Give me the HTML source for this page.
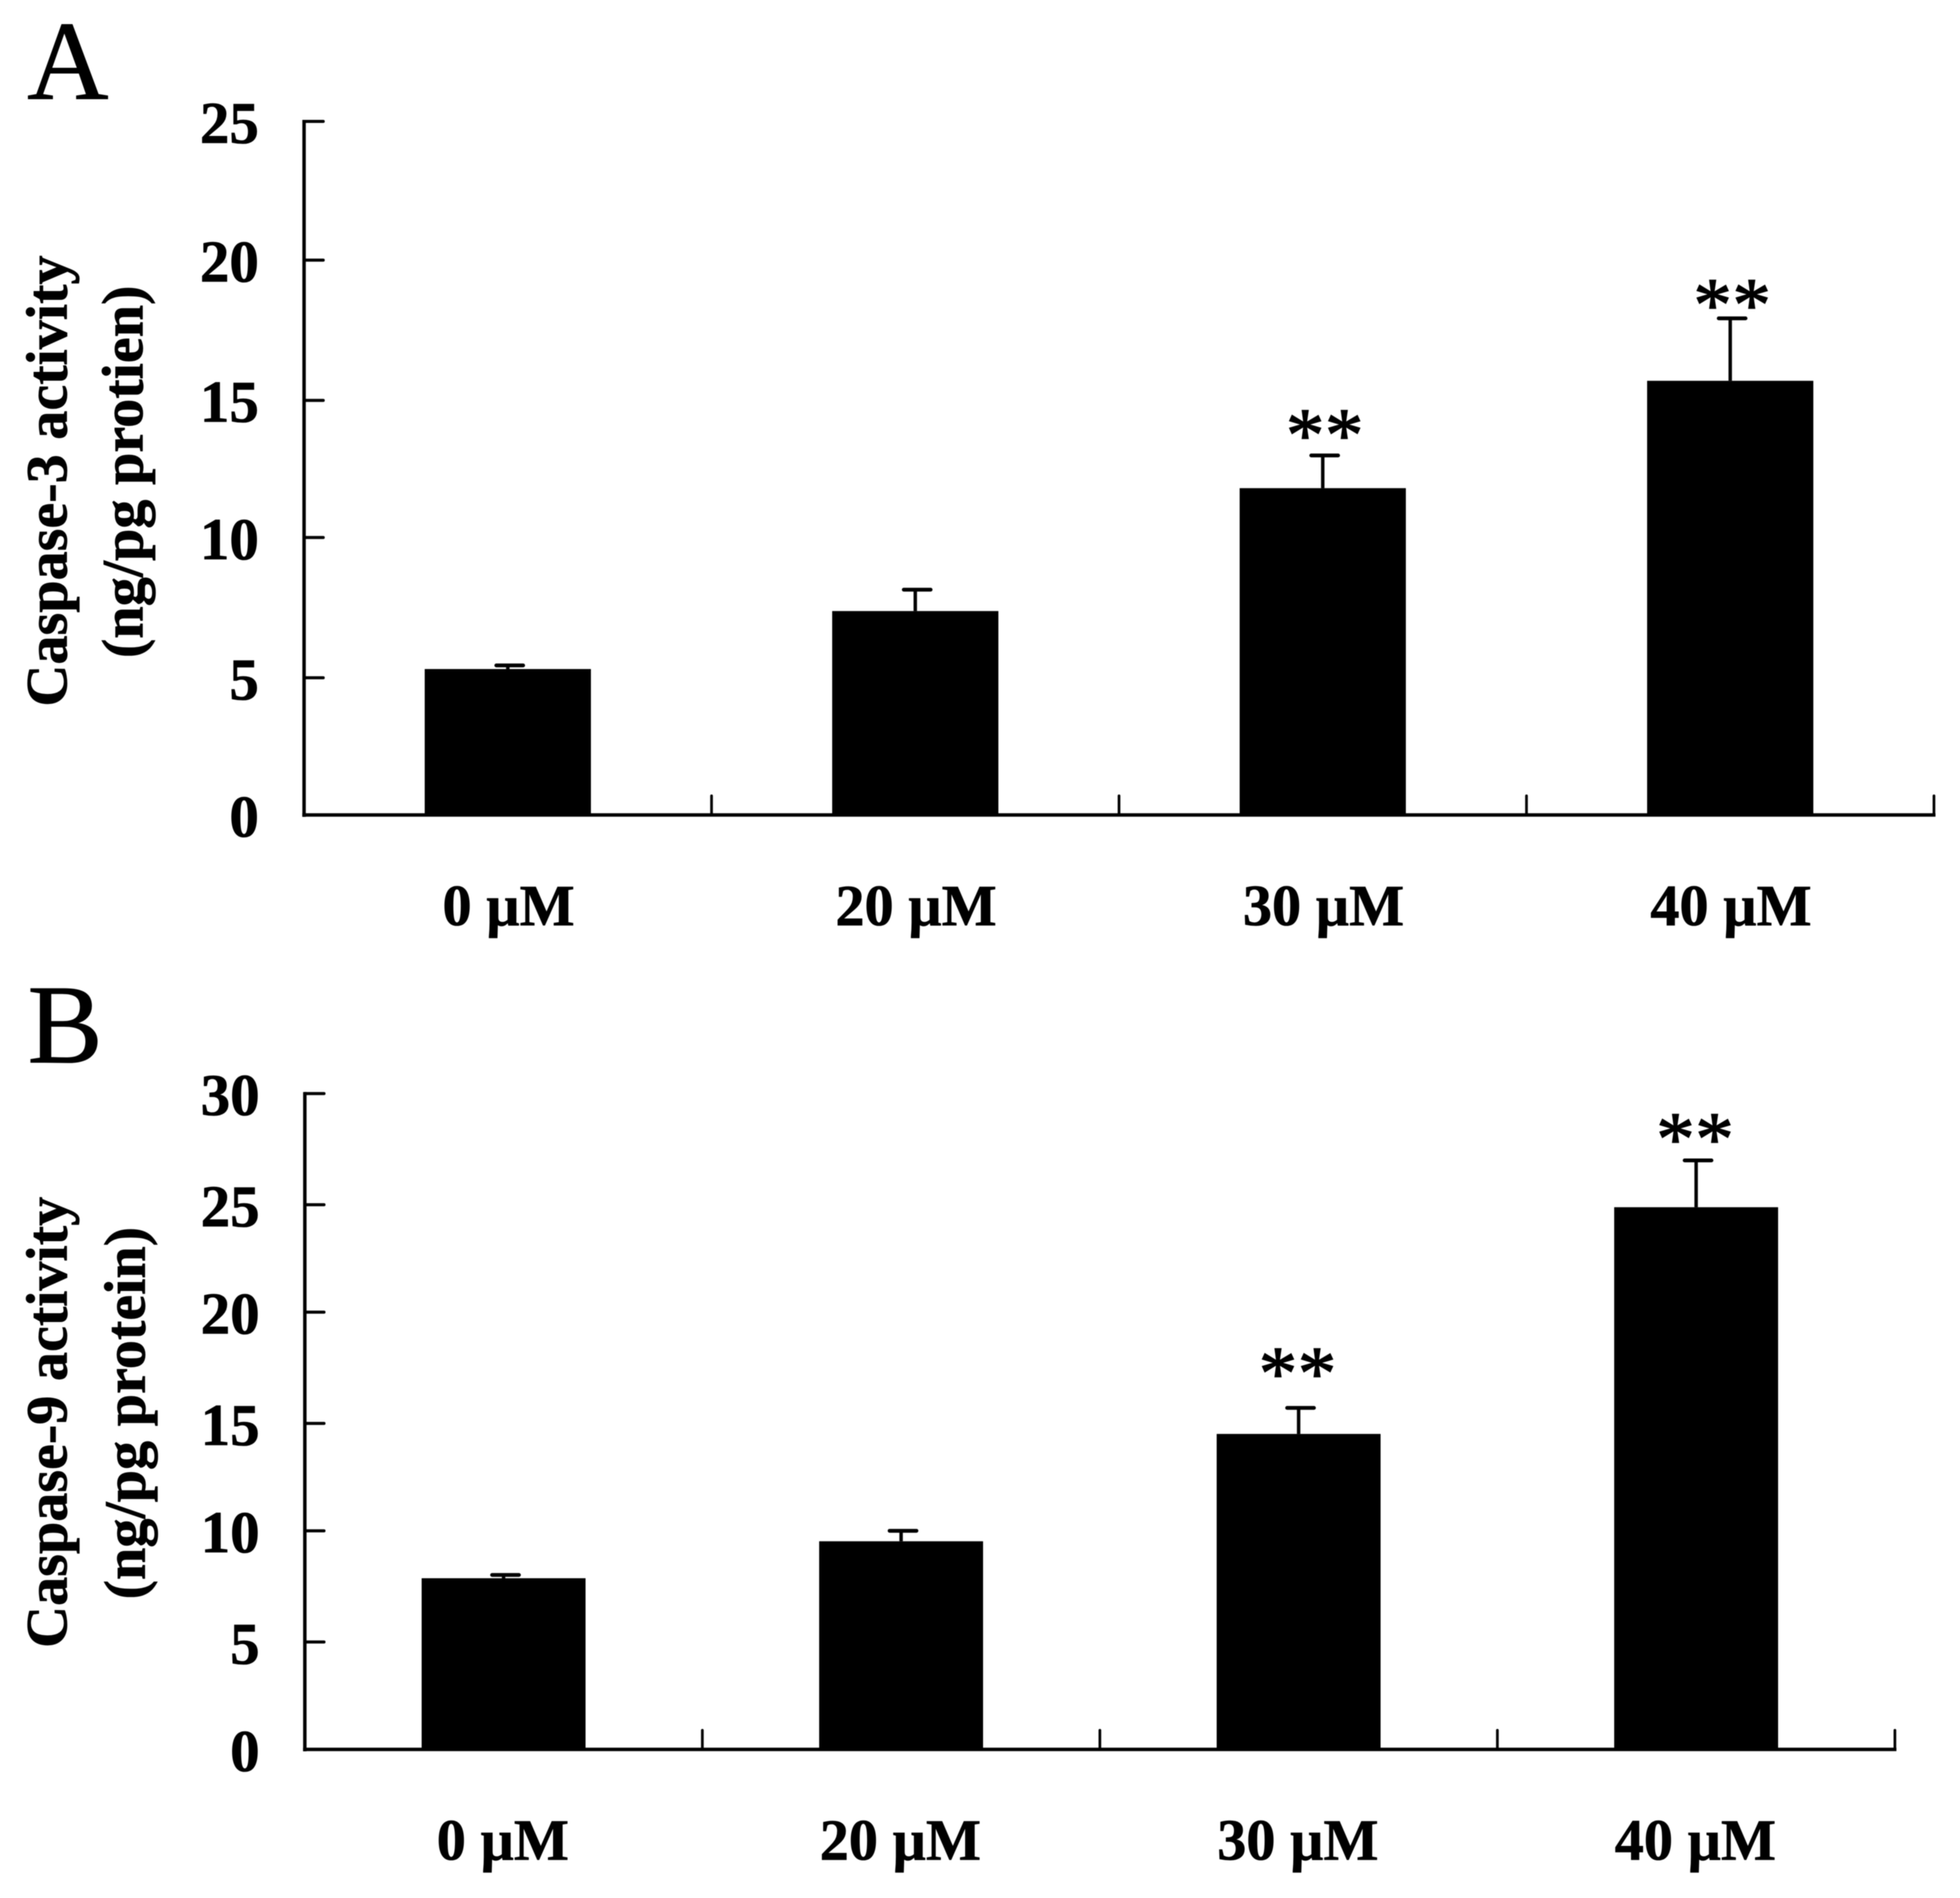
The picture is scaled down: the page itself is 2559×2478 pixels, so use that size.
<!DOCTYPE html>
<html lang="en">
<head>
<meta charset="utf-8">
<title>Caspase-3 and Caspase-9 activity</title>
<style>
html,body{margin:0;padding:0;background:#fff;width:2559px;height:2478px;overflow:hidden}
svg{display:block;filter:blur(0.5px)}
text{font-family:"Liberation Serif",serif;fill:#000}
.b{font-weight:bold;stroke:#000;stroke-width:0.8px}
.l{stroke:#000;stroke-width:1px}
.s{stroke:#000;stroke-width:1.6px}
</style>
</head>
<body>
<svg id="chart" xmlns="http://www.w3.org/2000/svg" width="2559" height="2478" viewBox="0 0 2559 2478">
<rect x="0" y="0" width="2559" height="2478" fill="#fff"/>
<text class="l" x="35.5" y="129" font-size="147">A</text>
<text class="l" x="36" y="1387" font-size="147">B</text>
<text class="b" font-size="76" text-anchor="middle" transform="translate(87 628) rotate(-90)">Caspase-3 activity</text>
<text class="b" font-size="76" text-anchor="middle" transform="translate(186 616) rotate(-90)">(ng/pg protien)</text>
<text class="b" font-size="76" text-anchor="middle" transform="translate(87 1857) rotate(-90)">Caspase-9 activity</text>
<text class="b" font-size="76" text-anchor="middle" transform="translate(189 1845) rotate(-90)">(ng/pg protein)</text>
<g id="panel-a"></g>
<g id="panel-b"></g>
</svg>
<script>
// Data
const categories = ["0 µM", "20 µM", "30 µM", "40 µM"];
const ticksA = [0, 5, 10, 15, 20, 25];
const meansA = [5.26, 7.35, 11.78, 15.65];
const errorTopsA = [5.39, 8.12, 12.96, 17.9];
const starLevelsA = [null, null, 13.5, 18.2];
const ticksB = [0, 5, 10, 15, 20, 25, 30];
const meansB = [7.83, 9.52, 14.43, 24.8];
const errorTopsB = [7.98, 10.0, 15.62, 26.94];
const starLevelsB = [null, null, 16.95, 27.67];
const significance = "**";

const NS = "http://www.w3.org/2000/svg";

function make(tag, parent, attrs) {
  const el = document.createElementNS(NS, tag);
  for (const k in attrs) el.setAttribute(k, attrs[k]);
  parent.appendChild(el);
  return el;
}

function drawPanel(cfg) {
  const g = document.getElementById(cfg.id);
  const yMax = cfg.ticks[cfg.ticks.length - 1];
  const yScale = v => cfg.y0 - (v / yMax) * (cfg.y0 - cfg.yTop);
  const slot = (cfg.xEnd - cfg.x0) / cfg.categories.length;
  const xScale = i => cfg.x0 + slot * (i + 0.5);
  // the source figure's odd ticks sit slightly below their linear position
  const tickY = t => yScale(t) + ((t % 10 === 5 && t !== yMax) ? cfg.oddTickShift : 0);

  cfg.means.forEach((v, i) => {
    const bar = make("rect", g, {
      x: xScale(i) - cfg.barWidth / 2,
      y: yScale(v),
      width: cfg.barWidth,
      height: cfg.y0 - yScale(v) + 2,
      fill: "#000"
    });
    
    

    const stem = make("line", g, {
      x1: xScale(i), x2: xScale(i),
      y1: yScale(v), y2: yScale(cfg.errs[i]),
      stroke: "#000", "stroke-width": 4.5
    });
    
    

    const cap = make("line", g, {
      x1: xScale(i) - 15, x2: xScale(i) + 20,
      y1: yScale(cfg.errs[i]), y2: yScale(cfg.errs[i]),
      stroke: "#000", "stroke-width": 5, "stroke-linecap": "round"
    });
    
    

    if (cfg.stars[i] !== null) {
      const star = make("text", g, {
        x: xScale(i) + cfg.starShift,
        y: yScale(cfg.stars[i]) + 26,
        "font-size": 100,
        "letter-spacing": 1,
        "text-anchor": "middle",
        "class": "s"
      });
      star.textContent = significance;
      
      
    }

    const label = make("text", g, {
      x: xScale(i) + cfg.labelShift,
      y: cfg.labelY,
      "font-size": 76,
      "text-anchor": "middle",
      "class": "b"
    });
    label.textContent = cfg.categories[i];
    
    
  });

  const yAxis = make("line", g, {
    x1: cfg.x0, x2: cfg.x0,
    y1: yScale(yMax) - 2, y2: cfg.y0 + 2.5,
    stroke: "#000", "stroke-width": 4.5
  });
  
  

  const xAxis = make("line", g, {
    x1: cfg.x0 - 2.25, x2: cfg.xEnd + 2,
    y1: cfg.y0, y2: cfg.y0,
    stroke: "#000", "stroke-width": 4.5
  });
  
  

  cfg.ticks.forEach(t => {
    if (t !== 0) {
      const tick = make("line", g, {
        x1: cfg.x0, x2: cfg.x0 + 25,
        y1: tickY(t), y2: tickY(t),
        stroke: "#000", "stroke-width": 4, "stroke-linecap": "round"
      });
      
      
    }
    const lab = make("text", g, {
      x: cfg.x0 - 59,
      y: tickY(t) + 28,
      "font-size": 77,
      "text-anchor": "end",
      "class": "b"
    });
    lab.textContent = String(t);
    
    
  });

  cfg.categories.forEach((c, i) => {
    const tx = cfg.x0 + slot * (i + 1);
    const tick = make("line", g, {
      x1: tx, x2: tx,
      y1: cfg.y0, y2: cfg.y0 - 25,
      stroke: "#000", "stroke-width": 3.5, "stroke-linecap": "round"
    });
    
    
  });
}

drawPanel({
  id: "panel-a", categories: categories, ticks: ticksA, means: meansA, errs: errorTopsA, stars: starLevelsA,
  x0: 397, xEnd: 2525, y0: 1064, yTop: 158.5, barWidth: 217, labelY: 1208, oddTickShift: 2, starShift: 3, labelShift: 1
});
drawPanel({
  id: "panel-b", categories: categories, ticks: ticksB, means: meansB, errs: errorTopsB, stars: starLevelsB,
  x0: 398, xEnd: 2474, y0: 2284, yTop: 1427.7, barWidth: 214, labelY: 2428, oddTickShift: 2.5, starShift: -1, labelShift: -1
});
</script>
</body>
</html>
